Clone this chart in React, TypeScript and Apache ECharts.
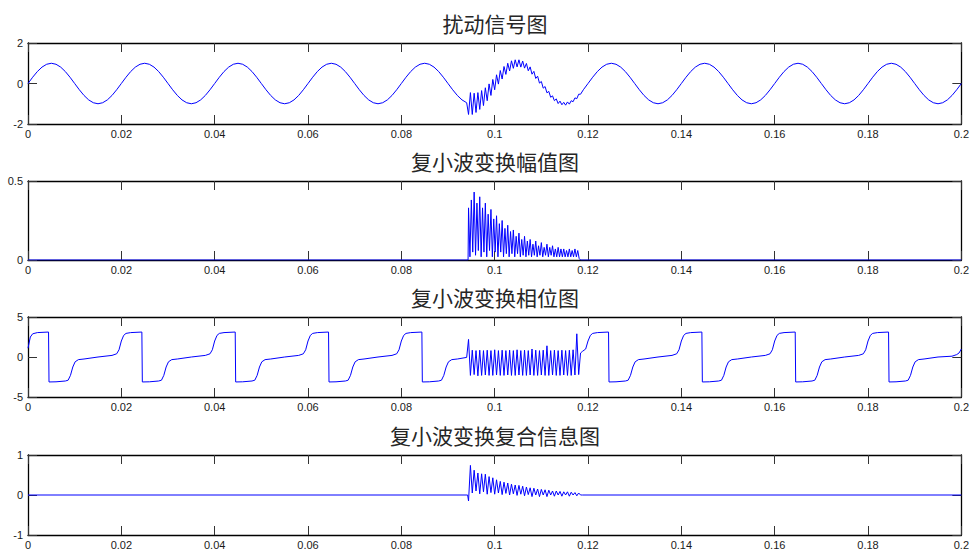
import React, { useEffect, useRef } from "react";
import * as echarts from "echarts";

const titles = ["扰动信号图", "复小波变换幅值图", "复小波变换相位图", "复小波变换复合信息图"];
const yRanges: [number, number, number][] = [
  [-2, 2, 2],
  [0, 0.5, 0.5],
  [-5, 5, 5],
  [-1, 1, 1],
];
const xMin = 0;
const xMax = 0.2;
const xInterval = 0.02;

// ---- 扰动信号 ----
const signalStep = 0.001;
const signalBeforeStart = 0;
const signalBefore = [
  0, 0.31, 0.59, 0.81, 0.95, 1, 0.95, 0.81, 0.59, 0.31, 0, -0.31, -0.59, -0.81, -0.95, -1, -0.95, -0.81, -0.59, -0.31,
  0, 0.31, 0.59, 0.81, 0.95, 1, 0.95, 0.81, 0.59, 0.31, 0, -0.31, -0.59, -0.81, -0.95, -1, -0.95, -0.81, -0.59, -0.31,
  0, 0.31, 0.59, 0.81, 0.95, 1, 0.95, 0.81, 0.59, 0.31, 0, -0.31, -0.59, -0.81, -0.95, -1, -0.95, -0.81, -0.59, -0.31,
  0, 0.31, 0.59, 0.81, 0.95, 1, 0.95, 0.81, 0.59, 0.31, 0, -0.31, -0.59, -0.81, -0.95, -1, -0.95, -0.81, -0.59, -0.31,
  0, 0.31, 0.59, 0.81, 0.95, 1, 0.95, 0.81, 0.59, 0.31, 0, -0.31, -0.59, -0.81, -0.95,
];
const burstStart = 0.0944;
const burstStep = 0.0004;
const signalBurst = [
  -1.53, -0.45, -1.53, -0.48, -1.43, -0.45, -1.28, -0.35, -1.09, -0.21,
  -0.85, -0.02, -0.59, 0.2, -0.31, 0.43, -0.03, 0.64, 0.22, 0.84,
  0.45, 1.0, 0.62, 1.12, 0.75, 1.17, 0.82, 1.17, 0.81, 1.11,
  0.76, 0.99, 0.63, 0.82, 0.46, 0.6, 0.25, 0.36, 0.02, 0.1,
  -0.23, -0.15, -0.46, -0.39, -0.68, -0.61, -0.85, -0.76, -0.99, -0.87,
  -1.05, -0.93, -1.07, -0.91, -1.02, -0.85, -0.9, -0.71, -0.75, -0.53,
  -0.53,
];
const signalAfterStart = 0.119;
const signalAfter = [
  -0.31,
  0, 0.31, 0.59, 0.81, 0.95, 1, 0.95, 0.81, 0.59, 0.31, 0, -0.31, -0.59, -0.81, -0.95, -1, -0.95, -0.81, -0.59, -0.31,
  0, 0.31, 0.59, 0.81, 0.95, 1, 0.95, 0.81, 0.59, 0.31, 0, -0.31, -0.59, -0.81, -0.95, -1, -0.95, -0.81, -0.59, -0.31,
  0, 0.31, 0.59, 0.81, 0.95, 1, 0.95, 0.81, 0.59, 0.31, 0, -0.31, -0.59, -0.81, -0.95, -1, -0.95, -0.81, -0.59, -0.31,
  0, 0.31, 0.59, 0.81, 0.95, 1, 0.95, 0.81, 0.59, 0.31, 0, -0.31, -0.59, -0.81, -0.95, -1, -0.95, -0.81, -0.59, -0.31,
  0,
];

// ---- 幅值 ----
const magnitudeQuietBefore: [number, number][] = [[0, 0], [0.0943, 0]];
const magnitudeStart = 0.0944;
const magnitudeStep = 0.0003;
const magnitudeBurst = [
  0.33, 0.02, 0.38, 0.05, 0.43, 0.03, 0.36, 0.06, 0.4, 0.02,
  0.33, 0.05, 0.36, 0.02, 0.29, 0.06, 0.32, 0.02, 0.26, 0.05,
  0.28, 0.02, 0.23, 0.05, 0.25, 0.02, 0.2, 0.04, 0.22, 0.02,
  0.18, 0.04, 0.19, 0.02, 0.15, 0.04, 0.17, 0.02, 0.13, 0.03,
  0.15, 0.02, 0.12, 0.03, 0.13, 0.02, 0.1, 0.03, 0.12, 0.02,
  0.09, 0.03, 0.11, 0.02, 0.08, 0.03, 0.1, 0.02, 0.08, 0.03,
  0.09, 0.02, 0.07, 0.02, 0.08, 0.02, 0.07, 0.02, 0.07, 0.02,
  0.06, 0.02, 0.07, 0.02, 0.06, 0.02, 0.07, 0.02, 0.06, 0.01,
  0.0,
];
const magnitudeQuietAfter: [number, number][] = [[0.1187, 0], [0.2, 0]];

// ---- 相位 ----
const phaseBefore: [number, number][] = [
  [0, 1.1], [0.0005, 2.5], [0.001, 2.9], [0.002, 3.05], [0.0044, 3.12], [0.0045, -3.12], [0.006, -3.1], [0.008, -3.0], [0.0086, -2.9],
  [0.0091, -2.3], [0.0096, -1.25], [0.0101, -0.6], [0.0108, -0.33], [0.012, -0.25], [0.015, 0], [0.018, 0.2], [0.019, 0.4], [0.0195, 0.9],
  [0.02, 2.0], [0.0205, 2.7], [0.021, 2.95], [0.022, 3.05], [0.0244, 3.12], [0.0245, -3.12], [0.026, -3.1], [0.028, -3.0], [0.0286, -2.9],
  [0.0291, -2.3], [0.0296, -1.25], [0.0301, -0.6], [0.0308, -0.33], [0.032, -0.25], [0.035, 0], [0.038, 0.2], [0.039, 0.4], [0.0395, 0.9],
  [0.04, 2.0], [0.0405, 2.7], [0.041, 2.95], [0.042, 3.05], [0.0444, 3.12], [0.0445, -3.12], [0.046, -3.1], [0.048, -3.0], [0.0486, -2.9],
  [0.0491, -2.3], [0.0496, -1.25], [0.0501, -0.6], [0.0508, -0.33], [0.052, -0.25], [0.055, 0], [0.058, 0.2], [0.059, 0.4], [0.0595, 0.9],
  [0.06, 2.0], [0.0605, 2.7], [0.061, 2.95], [0.062, 3.05], [0.0644, 3.12], [0.0645, -3.12], [0.066, -3.1], [0.068, -3.0], [0.0686, -2.9],
  [0.0691, -2.3], [0.0696, -1.25], [0.0701, -0.6], [0.0708, -0.33], [0.072, -0.25], [0.075, 0], [0.078, 0.2], [0.079, 0.4], [0.0795, 0.9],
  [0.08, 2.0], [0.0805, 2.7], [0.081, 2.95], [0.082, 3.05], [0.0844, 3.12], [0.0845, -3.12], [0.086, -3.1], [0.088, -3.0], [0.0886, -2.9],
  [0.0891, -2.3], [0.0896, -1.25], [0.0901, -0.6], [0.0908, -0.33], [0.092, -0.25], [0.094, -0.05],
];
const phaseBurst = [
  2.2, -2.3, 0.85, -2.2, 0.8, -2.35, 0.85, -2.3, 0.8, -2.25,
  0.85, -2.3, 0.8, -2.3, 0.9, -2.25, 0.8, -2.3, 0.85, -2.3,
  0.8, -2.25, 0.85, -2.3, 0.8, -2.3, 0.9, -2.25, 0.8, -2.3,
  0.85, -2.3, 0.8, -2.25, 1.0, -2.3, 0.85, -2.3, 0.8, -2.25,
  0.85, -2.3, 1.4, -2.3, 0.8, -2.25, 0.85, -2.3, 0.8, -2.3,
  0.85, -2.25, 0.8, -2.3, 0.85, -2.3, 0.9, -2.25, 2.9, -2.2,
  0.5,
];
const phaseAfter: [number, number][] = [
  [0.1188, 0.7], [0.1195, 1.0],
  [0.12, 2.0], [0.1205, 2.7], [0.121, 2.95], [0.122, 3.05], [0.1244, 3.12], [0.1245, -3.12], [0.126, -3.1], [0.128, -3.0], [0.1286, -2.9],
  [0.1291, -2.3], [0.1296, -1.25], [0.1301, -0.6], [0.1308, -0.33], [0.132, -0.25], [0.135, 0], [0.138, 0.2], [0.139, 0.4], [0.1395, 0.9],
  [0.14, 2.0], [0.1405, 2.7], [0.141, 2.95], [0.142, 3.05], [0.1444, 3.12], [0.1445, -3.12], [0.146, -3.1], [0.148, -3.0], [0.1486, -2.9],
  [0.1491, -2.3], [0.1496, -1.25], [0.1501, -0.6], [0.1508, -0.33], [0.152, -0.25], [0.155, 0], [0.158, 0.2], [0.159, 0.4], [0.1595, 0.9],
  [0.16, 2.0], [0.1605, 2.7], [0.161, 2.95], [0.162, 3.05], [0.1644, 3.12], [0.1645, -3.12], [0.166, -3.1], [0.168, -3.0], [0.1686, -2.9],
  [0.1691, -2.3], [0.1696, -1.25], [0.1701, -0.6], [0.1708, -0.33], [0.172, -0.25], [0.175, 0], [0.178, 0.2], [0.179, 0.4], [0.1795, 0.9],
  [0.18, 2.0], [0.1805, 2.7], [0.181, 2.95], [0.182, 3.05], [0.1844, 3.12], [0.1845, -3.12], [0.186, -3.1], [0.188, -3.0], [0.1886, -2.9],
  [0.1891, -2.3], [0.1896, -1.25], [0.1901, -0.6], [0.1908, -0.33], [0.192, -0.25], [0.195, 0], [0.198, 0.1], [0.199, 0.3], [0.1995, 0.5],
  [0.2, 1.0],
];

// ---- 复合信息 ----
const complexQuietBefore: [number, number][] = [[0, 0], [0.0942, 0]];
const complexBurst = [
  -0.15, 0.74, 0.05, 0.62, 0.1, 0.55, 0.03, 0.53, 0.08, 0.52,
  0.02, 0.46, 0.06, 0.43, 0.02, 0.38, 0.05, 0.34, 0.01, 0.32,
  0.04, 0.3, 0.0, 0.27, 0.03, 0.25, -0.01, 0.24, 0.02, 0.22,
  -0.02, 0.2, 0.01, 0.18, -0.04, 0.17, 0.0, 0.15, -0.04, 0.14,
  0.0, 0.13, -0.04, 0.12, 0.0, 0.1, -0.03, 0.1, 0.0, 0.09,
  -0.03, 0.08, 0.0, 0.08, -0.03, 0.07, 0.0, 0.06, -0.02, 0.05,
  0.0,
];
const complexQuietAfter: [number, number][] = [[0.1188, 0], [0.2, 0]];

const uniform = (start: number, step: number, values: number[]): [number, number][] =>
  values.map((v, i) => [+(start + i * step).toFixed(5), v]);

const seriesData: [number, number][][] = [
  [
    ...uniform(signalBeforeStart, signalStep, signalBefore),
    ...uniform(burstStart, burstStep, signalBurst),
    ...uniform(signalAfterStart, signalStep, signalAfter),
  ],
  [...magnitudeQuietBefore, ...uniform(magnitudeStart, magnitudeStep, magnitudeBurst), ...magnitudeQuietAfter],
  [...phaseBefore, ...uniform(burstStart, burstStep, phaseBurst), ...phaseAfter],
  [...complexQuietBefore, ...uniform(burstStart, burstStep, complexBurst), ...complexQuietAfter],
];

const grids = [
  { top: 43, height: 81 },
  { top: 181, height: 79 },
  { top: 317, height: 80 },
  { top: 455, height: 80 },
];

export default function App() {
  const ref = useRef<HTMLDivElement>(null);
  useEffect(() => {
    if (!ref.current) return;
    const chart = echarts.init(ref.current, undefined, { renderer: "svg" });
    const labelFont = {
      fontSize: 11,
      color: "#1a1a1a",
      fontFamily: "Liberation Sans, Arial, sans-serif",
    };
    const lineStyle = { color: "#000", width: 1.3 };
    const xAxes: any[] = [];
    const yAxes: any[] = [];
    const series: any[] = [];
    grids.forEach((g, i) => {
      const [ymin, ymax, yint] = yRanges[i];
      ["bottom", "top"].forEach((pos) => {
        xAxes.push({
          gridIndex: i,
          type: "value",
          position: pos,
          min: xMin,
          max: xMax,
          interval: xInterval,
          axisLine: { show: true, onZero: false, lineStyle },
          axisTick: { show: true, inside: true, length: 9, lineStyle: { color: "#333", width: 1 } },
          axisLabel: {
            show: pos === "bottom",
            margin: 4,
            showMinLabel: true,
            showMaxLabel: true,
            formatter: (v: number) => String(+v.toFixed(2)),
            ...labelFont,
          },
          splitLine: { show: false },
        });
      });
      ["left", "right"].forEach((pos) => {
        yAxes.push({
          gridIndex: i,
          type: "value",
          position: pos,
          min: ymin,
          max: ymax,
          interval: yint,
          axisLine: { show: true, onZero: false, lineStyle },
          axisTick: { show: true, inside: true, length: 9, lineStyle: { color: "#333", width: 1 } },
          axisLabel: {
            show: pos === "left",
            margin: 5,
            showMinLabel: true,
            showMaxLabel: true,
            formatter: (v: number) => String(+v.toFixed(2)),
            ...labelFont,
          },
          splitLine: { show: false },
        });
      });
      series.push({
        type: "line",
        xAxisIndex: i * 2,
        yAxisIndex: i * 2,
        data: seriesData[i],
        showSymbol: false,
        symbol: "none",
        silent: true,
        lineStyle: { color: "#0000ff", width: 1 },
        itemStyle: { color: "#0000ff" },
        z: 1,
      });
    });
    chart.setOption({
      animation: false,
      backgroundColor: "#ffffff",
      title: titles.map((t, i) => ({
        text: t,
        left: 495,
        top: grids[i].top - 32,
        textAlign: "center",
        padding: 0,
        textStyle: {
          fontSize: 21,
          fontWeight: "normal",
          color: "#262626",
          fontFamily: "Noto Sans CJK SC",
          lineHeight: 23,
        },
      })),
      grid: grids.map((g) => ({ left: 28, right: 10, top: g.top, height: g.height })),
      xAxis: xAxes,
      yAxis: yAxes,
      series,
    });
    return () => chart.dispose();
  }, []);
  return (
    <div
      ref={ref}
      style={{ position: "absolute", left: 0, top: 0, width: 972, height: 551, background: "#fff" }}
    />
  );
}
